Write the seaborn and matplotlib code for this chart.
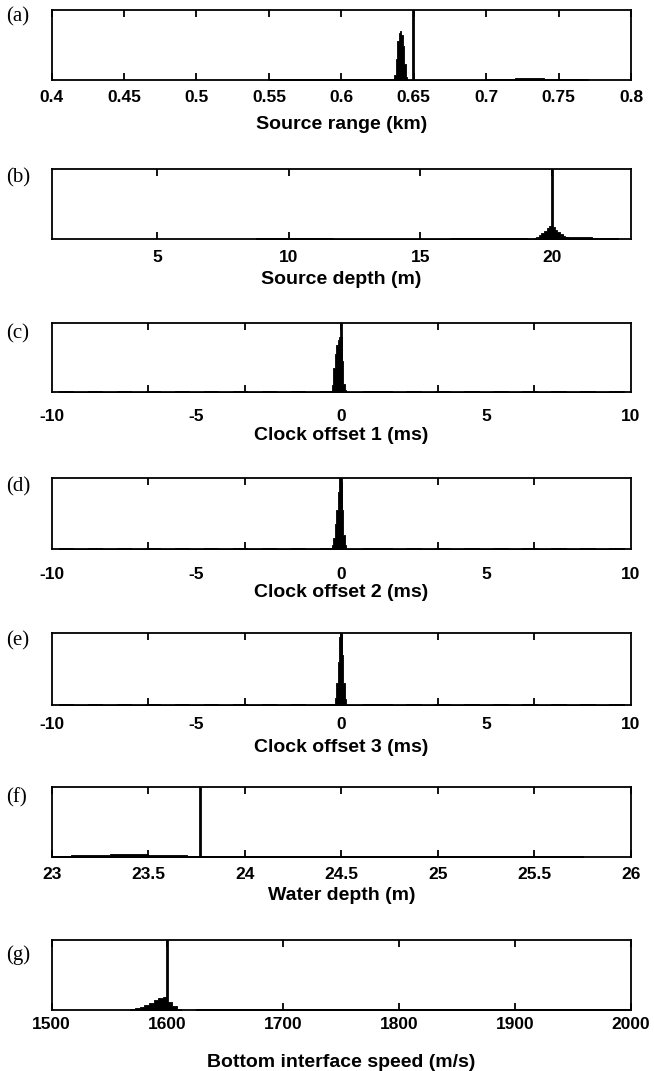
import numpy as np
import matplotlib
matplotlib.use("Agg")
import matplotlib.pyplot as plt
from matplotlib.ticker import FixedLocator
import seaborn as sns

# ------------------------------------------------------------------
# Data: relative posterior heights (max = 1)
# ------------------------------------------------------------------
# (a) Source range (km)
a_peak_x = [0.637, 0.638, 0.639, 0.640, 0.641, 0.642, 0.643, 0.644, 0.645]
a_peak_h = [0.06, 0.30, 0.55, 0.66, 0.69, 0.64, 0.48, 0.22, 0.04]
a_floor_x = [0.555, 0.565, 0.575, 0.585, 0.595, 0.605, 0.615, 0.625, 0.635,
             0.705, 0.715, 0.725, 0.735, 0.745, 0.755, 0.765]
a_floor_h = [0.01, 0.012, 0.01, 0.012, 0.01, 0.01, 0.012, 0.01, 0.012,
             0.01, 0.012, 0.02, 0.015, 0.01, 0.012, 0.01]
a_true = 0.6495
a_ticks = [0.4, 0.45, 0.5, 0.55, 0.6, 0.65, 0.7, 0.75, 0.8]
a_labels = ["0.4", "0.45", "0.5", "0.55", "0.6", "0.65", "0.7", "0.75", "0.8"]

# (b) Source depth (m)
b_peak_x = [19.35, 19.45, 19.55, 19.65, 19.75, 19.85, 19.95,
            20.05, 20.15, 20.25, 20.35, 20.45, 20.55, 20.65]
b_peak_h = [0.01, 0.03, 0.06, 0.09, 0.12, 0.16, 0.18,
            0.17, 0.13, 0.10, 0.07, 0.05, 0.03, 0.02]
b_floor_x = [9.0, 9.5, 10.0, 10.5, 11.0, 11.5, 16.5, 17.0, 17.5, 18.0, 18.5,
             19.0, 20.75, 21.25, 21.75, 22.25]
b_floor_h = [0.01, 0.012, 0.012, 0.012, 0.012, 0.01, 0.01, 0.012, 0.012,
             0.012, 0.012, 0.012, 0.03, 0.03, 0.015, 0.015]
b_true = 20.0
b_ticks = [5, 10, 15, 20]
b_labels = ["5", "10", "15", "20"]

# (c) Clock offset 1 (ms)
c_peak_x = [-0.30, -0.25, -0.20, -0.15, -0.10, -0.05, 0.00, 0.05, 0.10, 0.15]
c_peak_h = [0.10, 0.35, 0.55, 0.68, 0.76, 0.80, 0.80, 0.45, 0.12, 0.03]
c_floor_x = [-9.5, -8.5, -7.5, -6.5, -5.5, -4.5, -3.5, -2.5, -1.5, -0.75,
             0.75, 1.5, 2.5, 3.5, 4.5, 5.5, 6.5, 7.5, 8.5, 9.5]
c_floor_h = [0.012, 0.01, 0.012, 0.015, 0.012, 0.01, 0.012, 0.012, 0.01, 0.012,
             0.012, 0.01, 0.012, 0.012, 0.015, 0.012, 0.01, 0.012, 0.01, 0.012]
c_true = 0.0

# (d) Clock offset 2 (ms)
d_peak_x = [-0.30, -0.25, -0.20, -0.15, -0.10, -0.05, 0.00, 0.05, 0.10, 0.15]
d_peak_h = [0.05, 0.15, 0.35, 0.55, 0.80, 1.00, 0.95, 0.55, 0.20, 0.05]
d_floor_x = c_floor_x
d_floor_h = [0.02, 0.015, 0.02, 0.02, 0.018, 0.02, 0.02, 0.015, 0.02, 0.02,
             0.02, 0.02, 0.018, 0.02, 0.02, 0.015, 0.02, 0.02, 0.018, 0.02]
d_true = 0.0

# (e) Clock offset 3 (ms)
e_peak_x = [-0.20, -0.15, -0.10, -0.05, 0.00, 0.05, 0.10, 0.15]
e_peak_h = [0.10, 0.30, 0.60, 0.95, 1.00, 0.70, 0.30, 0.08]
e_floor_x = c_floor_x
e_floor_h = [0.015, 0.012, 0.015, 0.015, 0.015, 0.012, 0.015, 0.015, 0.012, 0.015,
             0.015, 0.012, 0.015, 0.015, 0.015, 0.012, 0.015, 0.015, 0.012, 0.015]
e_true = 0.0
clock_ticks = [-10, -5, 0, 5, 10]
clock_labels = ["-10", "-5", "0", "5", "10"]
clock_marks = [-20 / 3, -10 / 3, 0, 10 / 3, 20 / 3]

# (f) Water depth (m)
f_peak_x = [23.05, 23.15, 23.25, 23.35, 23.45, 23.55, 23.65, 23.75]
f_peak_h = [0.02, 0.025, 0.03, 0.04, 0.045, 0.035, 0.025, 0.015]
f_floor_x = [23.875, 24.125, 24.375, 24.625, 24.875, 25.125, 25.375, 25.625]
f_floor_h = [0.012, 0.012, 0.012, 0.012, 0.012, 0.012, 0.012, 0.012]
f_true = 23.77
f_ticks = [23, 23.5, 24, 24.5, 25, 25.5, 26]
f_labels = ["23", "23.5", "24", "24.5", "25", "25.5", "26"]

# (g) Bottom interface speed (m/s)
g_peak_x = [1570, 1574, 1578, 1582, 1586, 1590, 1594, 1598, 1602, 1606, 1610]
g_peak_h = [0.02, 0.03, 0.04, 0.07, 0.10, 0.14, 0.17, 0.18, 0.12, 0.06, 0.02]
g_floor_x = [1637.5, 1662.5, 1687.5, 1712.5, 1737.5, 1762.5, 1787.5, 1812.5,
             1837.5, 1862.5, 1887.5, 1912.5, 1937.5, 1962.5, 1987.5]
g_floor_h = [0.01, 0.01, 0.012, 0.012, 0.01, 0.012, 0.012, 0.012,
             0.012, 0.01, 0.012, 0.01, 0.01, 0.01, 0.01]
g_true = 1600.0
g_ticks = [1500, 1600, 1700, 1800, 1900, 2000]
g_labels = ["1500", "1600", "1700", "1800", "1900", "2000"]

panel_letters = ["(a)", "(b)", "(c)", "(d)", "(e)", "(f)", "(g)"]
xlabels = ["Source range (km)", "Source depth (m)", "Clock offset 1 (ms)",
           "Clock offset 2 (ms)", "Clock offset 3 (ms)", "Water depth (m)",
           "Bottom interface speed (m/s)"]

# ------------------------------------------------------------------
sns.set_theme(style="white")
plt.rcParams["font.family"] = ["Liberation Sans", "DejaVu Sans"]

W, H = 654, 1071
fig = plt.figure(figsize=(W / 100, H / 100), dpi=100)

# pixel layout: (top, bottom, ticklabel pad px, xlabel top px, letter center px)
layout = [
    (9.5, 79.5, 10, 116, 17),
    (169, 239, 11, 271, 178),
    (323, 392, 17, 427, 334),
    (478, 549, 18, 584, 487),
    (633, 705, 12, 739, 641),
    (787, 857, 10, 887, 798),
    (940, 1010, 7, 1054, 955),
]
left_px, right_px = 51.6, 631

panels = [
    (a_peak_x, a_peak_h, 0.001, a_floor_x, a_floor_h, 0.01, a_true, (0.4, 0.8),
     a_ticks, a_labels, a_ticks),
    (b_peak_x, b_peak_h, 0.1, b_floor_x, b_floor_h, 0.5, b_true, (1, 23),
     b_ticks, b_labels, b_ticks),
    (c_peak_x, c_peak_h, 0.05, c_floor_x, c_floor_h, 0.5, c_true, (-10, 10),
     clock_ticks, clock_labels, clock_marks),
    (d_peak_x, d_peak_h, 0.05, d_floor_x, d_floor_h, 0.5, d_true, (-10, 10),
     clock_ticks, clock_labels, clock_marks),
    (e_peak_x, e_peak_h, 0.05, e_floor_x, e_floor_h, 0.5, e_true, (-10, 10),
     clock_ticks, clock_labels, clock_marks),
    (f_peak_x, f_peak_h, 0.1, f_floor_x, f_floor_h, 0.25, f_true, (23, 26),
     f_ticks, f_labels, f_ticks),
    (g_peak_x, g_peak_h, 4, g_floor_x, g_floor_h, 25, g_true, (1500, 2000),
     g_ticks, g_labels, g_ticks),
]

for i, (px, ph, pw, fx, fh, fw, tv, xlim, ticks, labels, marks) in enumerate(panels):
    top, bot, tpad, lab_top, let_c = layout[i]
    ax = fig.add_axes([left_px / W, 1 - bot / H, (right_px - left_px) / W, (bot - top) / H])
    for xs, hs, w in ((fx, fh, fw), (px, ph, pw)):
        sns.histplot(x=xs, weights=hs, binwidth=w,
                     binrange=(min(xs) - w / 2, max(xs) + w / 2),
                     element="step", fill=True, color="black", alpha=1,
                     linewidth=0.6, edgecolor="black", ax=ax)
    ax.axvline(tv, color="black", lw=2.0)
    ax.set_xlim(*xlim)
    ax.set_ylim(0, 1.0)
    ax.set_ylabel("")
    ax.set_yticks([])
    ax.xaxis.remove_overlapping_locs = False
    ax.set_xticks(ticks)
    ax.set_xticklabels(labels)
    ax.xaxis.set_minor_locator(FixedLocator(marks))
    ax.tick_params(axis="x", which="major", length=0, pad=tpad * 0.72,
                   labelsize=12.5, bottom=True, top=False)
    ax.tick_params(axis="x", which="minor", direction="in", length=5, width=1.3,
                   color="black", bottom=True, top=True)
    for lab in ax.get_xticklabels():
        lab.set_fontweight("bold")
        lab.set_color("black")
    for sp in ax.spines.values():
        sp.set_visible(True)
        sp.set_color("black")
        sp.set_linewidth(1.3)
    ax.set_xlabel(xlabels[i], fontsize=14, fontweight="bold", color="black")
    ax.xaxis.set_label_coords(0.5, -(lab_top - bot) / (bot - top))
    ax.xaxis.label.set_va("top")
    fig.text(6 / W, 1 - let_c / H, panel_letters[i], family="Liberation Serif",
             fontsize=15, va="center", ha="left", color="black")

fig.savefig("out.png", dpi=100, facecolor="white")
